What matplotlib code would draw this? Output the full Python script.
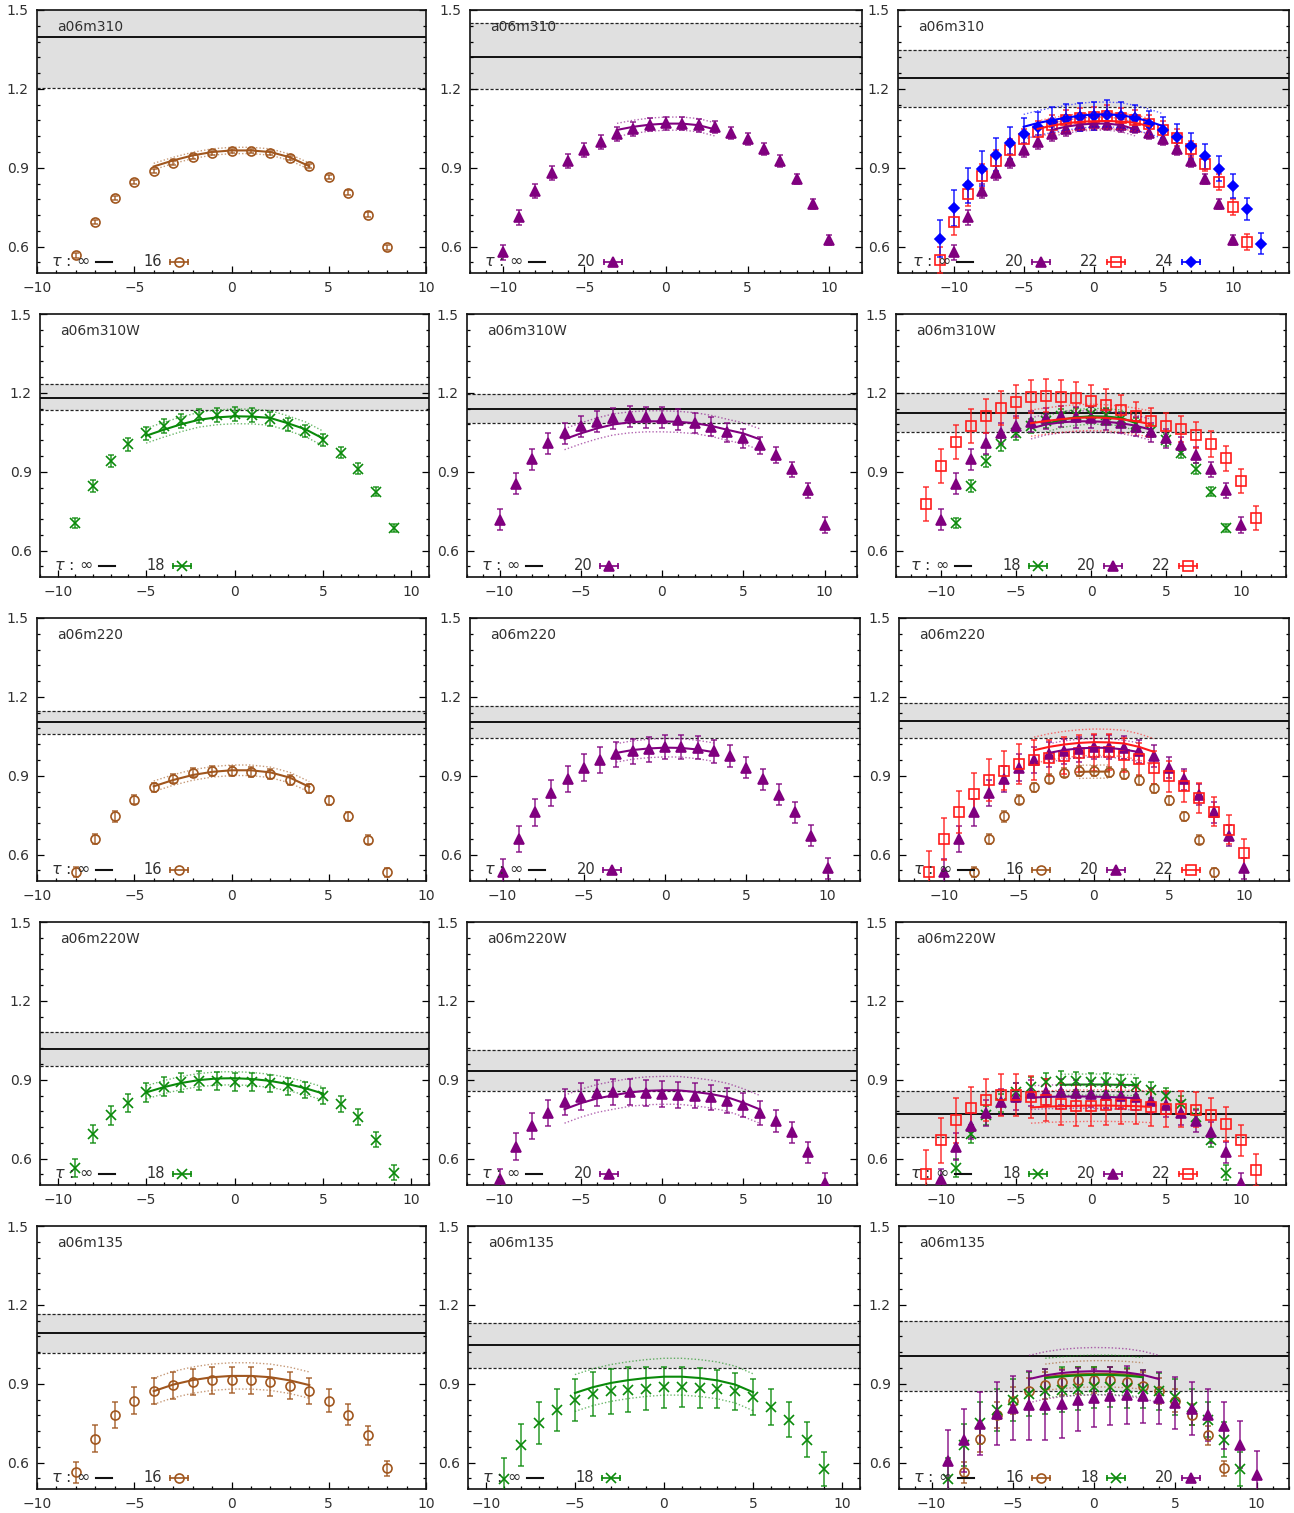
import matplotlib.pyplot as plt
from matplotlib.ticker import MultipleLocator

# colour / symbol per source-sink separation tau
colors = {16: '#a0561e', 18: '#0a8a0a', 20: '#80007f', 22: '#ff1a1a', 24: '#0000ff'}
markers = {16: 'o', 18: 'x', 20: '^', 22: 's', 24: 'D'}
msizes = {16: 6.5, 18: 6.5, 20: 7.0, 22: 6.5, 24: 5.0}
hollow = {16: True, 18: False, 20: False, 22: True, 24: False}

# ---------------- a06m310 ----------------
m310_t16_x = list(range(-8, 9))
m310_t16_y = [0.567, 0.694, 0.784, 0.846, 0.887, 0.919, 0.942, 0.957, 0.963, 0.963, 0.957, 0.938, 0.908, 0.865, 0.806, 0.722, 0.597]
m310_t16_e = [0.010, 0.009, 0.008, 0.008, 0.008, 0.008, 0.008, 0.008, 0.008, 0.008, 0.008, 0.008, 0.008, 0.008, 0.009, 0.009, 0.010]

m310_t20_x = list(range(-10, 11))
m310_t20_y = [0.578, 0.712, 0.812, 0.880, 0.926, 0.967, 0.997, 1.028, 1.048, 1.064, 1.070, 1.067, 1.061, 1.055, 1.033, 1.010, 0.972, 0.925, 0.858, 0.762, 0.626]
m310_t20_e = [0.028, 0.028, 0.028, 0.027, 0.027, 0.027, 0.027, 0.026, 0.026, 0.025, 0.025, 0.025, 0.025, 0.024, 0.024, 0.024, 0.022, 0.022, 0.020, 0.020, 0.018]

m310_t22_x = list(range(-11, 12))
m310_t22_y = [0.550, 0.693, 0.800, 0.870, 0.926, 0.969, 1.009, 1.038, 1.061, 1.081, 1.089, 1.093, 1.097, 1.089, 1.081, 1.065, 1.043, 1.014, 0.972, 0.916, 0.845, 0.750, 0.617]
m310_t22_e = [0.050, 0.050, 0.045, 0.045, 0.042, 0.040, 0.040, 0.040, 0.040, 0.040, 0.040, 0.040, 0.040, 0.040, 0.038, 0.036, 0.035, 0.033, 0.030, 0.030, 0.030, 0.030, 0.030]

m310_t24_x = list(range(-11, 13))
m310_t24_y = [0.631, 0.747, 0.833, 0.897, 0.950, 0.995, 1.029, 1.056, 1.074, 1.087, 1.094, 1.098, 1.102, 1.098, 1.088, 1.067, 1.043, 1.016, 0.982, 0.944, 0.897, 0.832, 0.744, 0.612]
m310_t24_e = [0.070, 0.070, 0.068, 0.065, 0.062, 0.060, 0.060, 0.058, 0.056, 0.055, 0.054, 0.054, 0.054, 0.054, 0.052, 0.050, 0.050, 0.050, 0.050, 0.048, 0.048, 0.045, 0.042, 0.040]

# fits: x range, central values, half width of the error band
fit_m310_t16 = (list(range(-4, 5)), [0.905, 0.928, 0.947, 0.960, 0.966, 0.966, 0.960, 0.940, 0.906], 0.012)
fit_m310_t20 = (list(range(-3, 4)), [1.044, 1.056, 1.064, 1.068, 1.068, 1.062, 1.046], 0.025)
fit_m310_t22 = (list(range(-4, 5)), [1.048, 1.060, 1.069, 1.075, 1.077, 1.078, 1.076, 1.071, 1.058], 0.030)
fit_m310_t24 = (list(range(-5, 6)), [1.056, 1.070, 1.081, 1.090, 1.098, 1.103, 1.103, 1.100, 1.090, 1.076, 1.058], 0.047)

# ---------------- a06m310W ----------------
m310W_t18_x = list(range(-9, 10))
m310W_t18_y = [0.705, 0.845, 0.942, 1.004, 1.046, 1.073, 1.094, 1.113, 1.116, 1.120, 1.116, 1.101, 1.081, 1.056, 1.021, 0.973, 0.912, 0.825, 0.688]
m310W_t18_e = [0.020, 0.022, 0.022, 0.024, 0.025, 0.026, 0.026, 0.026, 0.026, 0.026, 0.026, 0.025, 0.024, 0.023, 0.022, 0.021, 0.020, 0.018, 0.015]

m310W_t20_x = list(range(-10, 11))
m310W_t20_y = [0.717, 0.854, 0.947, 1.009, 1.047, 1.073, 1.090, 1.104, 1.111, 1.108, 1.106, 1.098, 1.085, 1.071, 1.050, 1.027, 1.001, 0.965, 0.909, 0.829, 0.698]
m310W_t20_e = [0.040, 0.040, 0.040, 0.040, 0.040, 0.040, 0.040, 0.040, 0.040, 0.040, 0.040, 0.040, 0.038, 0.036, 0.035, 0.035, 0.033, 0.030, 0.030, 0.030, 0.030]

m310W_t22_x = list(range(-11, 12))
m310W_t22_y = [0.779, 0.922, 1.014, 1.073, 1.112, 1.142, 1.167, 1.186, 1.190, 1.186, 1.180, 1.170, 1.154, 1.135, 1.111, 1.093, 1.075, 1.062, 1.041, 1.007, 0.952, 0.864, 0.724]
m310W_t22_e = [0.065, 0.065, 0.065, 0.065, 0.065, 0.065, 0.063, 0.062, 0.062, 0.062, 0.060, 0.060, 0.060, 0.058, 0.056, 0.050, 0.050, 0.050, 0.050, 0.050, 0.048, 0.045, 0.045]

fit_m310W_t18 = (list(range(-5, 6)), [1.037, 1.060, 1.081, 1.098, 1.107, 1.111, 1.110, 1.105, 1.085, 1.062, 1.027], 0.028)
fit_m310W_t20 = (list(range(-6, 7)), [1.024, 1.046, 1.065, 1.080, 1.088, 1.092, 1.092, 1.090, 1.085, 1.075, 1.060, 1.046, 1.024], 0.040)
fit_m310W_all_t18 = (list(range(-3, 4)), [1.081, 1.098, 1.107, 1.111, 1.110, 1.105, 1.085], 0.030)
fit_m310W_all_t20 = (list(range(-4, 5)), [1.065, 1.080, 1.088, 1.092, 1.092, 1.090, 1.085, 1.075, 1.060], 0.040)
fit_m310W_all_t22 = (list(range(-4, 5)), [1.085, 1.093, 1.100, 1.105, 1.107, 1.105, 1.100, 1.092, 1.081], 0.050)

# ---------------- a06m220 ----------------
m220_t16_x = list(range(-8, 9))
m220_t16_y = [0.535, 0.659, 0.746, 0.809, 0.856, 0.889, 0.912, 0.919, 0.919, 0.914, 0.907, 0.884, 0.852, 0.807, 0.746, 0.657, 0.533]
m220_t16_e = [0.020, 0.020, 0.020, 0.018, 0.018, 0.018, 0.018, 0.018, 0.018, 0.018, 0.018, 0.018, 0.018, 0.018, 0.018, 0.018, 0.018]

m220_t20_x = list(range(-10, 11))
m220_t20_y = [0.534, 0.660, 0.761, 0.834, 0.888, 0.931, 0.960, 0.981, 0.993, 1.000, 1.010, 1.010, 1.007, 0.993, 0.974, 0.930, 0.886, 0.828, 0.761, 0.672, 0.549]
m220_t20_e = [0.050, 0.050, 0.050, 0.050, 0.050, 0.050, 0.050, 0.048, 0.048, 0.046, 0.046, 0.046, 0.045, 0.044, 0.042, 0.040, 0.040, 0.040, 0.040, 0.040, 0.040]

m220_t22_x = list(range(-11, 11))
m220_t22_y = [0.534, 0.661, 0.761, 0.832, 0.883, 0.920, 0.945, 0.960, 0.968, 0.977, 0.985, 0.990, 0.990, 0.979, 0.962, 0.931, 0.898, 0.860, 0.816, 0.764, 0.695, 0.606]
m220_t22_e = [0.080, 0.080, 0.080, 0.080, 0.080, 0.075, 0.075, 0.075, 0.070, 0.070, 0.070, 0.070, 0.068, 0.066, 0.064, 0.062, 0.060, 0.060, 0.058, 0.056, 0.055, 0.055]

fit_m220_t16 = (list(range(-4, 5)), [0.860, 0.884, 0.903, 0.915, 0.921, 0.921, 0.913, 0.893, 0.858], 0.020)
fit_m220_t20 = (list(range(-3, 4)), [0.987, 0.998, 1.004, 1.007, 1.006, 1.000, 0.990], 0.035)
fit_m220_all_t16 = (list(range(-1, 2)), [0.915, 0.916, 0.916], 0.025)
fit_m220_all_t22 = (list(range(-4, 5)), [0.997, 1.010, 1.019, 1.025, 1.028, 1.027, 1.023, 1.010, 0.991], 0.050)

# ---------------- a06m220W ----------------
m220W_t18_x = list(range(-9, 10))
m220W_t18_y = [0.565, 0.693, 0.765, 0.812, 0.852, 0.874, 0.890, 0.897, 0.895, 0.892, 0.890, 0.886, 0.876, 0.862, 0.838, 0.809, 0.760, 0.672, 0.547]
m220W_t18_e = [0.035, 0.035, 0.035, 0.035, 0.035, 0.035, 0.035, 0.035, 0.035, 0.035, 0.034, 0.033, 0.032, 0.030, 0.030, 0.030, 0.030, 0.028, 0.028]

m220W_t20_x = list(range(-10, 11))
m220W_t20_y = [0.521, 0.646, 0.725, 0.775, 0.815, 0.836, 0.849, 0.853, 0.853, 0.849, 0.845, 0.843, 0.840, 0.834, 0.821, 0.803, 0.775, 0.744, 0.700, 0.624, 0.506]
m220W_t20_e = [0.040, 0.050, 0.050, 0.050, 0.050, 0.050, 0.050, 0.050, 0.050, 0.050, 0.050, 0.050, 0.048, 0.047, 0.046, 0.045, 0.045, 0.042, 0.040, 0.040, 0.040]

m220W_t22_x = list(range(-11, 12))
m220W_t22_y = [0.542, 0.670, 0.746, 0.791, 0.824, 0.842, 0.843, 0.834, 0.822, 0.809, 0.801, 0.801, 0.805, 0.808, 0.803, 0.795, 0.789, 0.789, 0.786, 0.766, 0.732, 0.670, 0.558]
m220W_t22_e = [0.090, 0.085, 0.085, 0.082, 0.080, 0.080, 0.080, 0.080, 0.080, 0.080, 0.078, 0.078, 0.076, 0.075, 0.072, 0.070, 0.070, 0.068, 0.066, 0.065, 0.065, 0.060, 0.060]

fit_m220W_t18 = (list(range(-5, 6)), [0.852, 0.872, 0.888, 0.899, 0.905, 0.906, 0.903, 0.896, 0.884, 0.868, 0.848], 0.025)
fit_m220W_t20 = (list(range(-6, 7)), [0.788, 0.811, 0.829, 0.841, 0.852, 0.858, 0.860, 0.860, 0.854, 0.846, 0.834, 0.813, 0.788], 0.053)
fit_m220W_all_t18 = (list(range(-2, 4)), [0.881, 0.882, 0.882, 0.882, 0.881, 0.880], 0.040)
fit_m220W_all_t20 = (list(range(-4, 4)), [0.832, 0.835, 0.836, 0.837, 0.836, 0.835, 0.833, 0.830], 0.045)
fit_m220W_all_t22 = (list(range(-4, 5)), [0.795, 0.798, 0.800, 0.801, 0.802, 0.802, 0.801, 0.800, 0.797], 0.060)

# ---------------- a06m135 ----------------
m135_t16_x = list(range(-8, 9))
m135_t16_y = [0.563, 0.692, 0.781, 0.836, 0.872, 0.894, 0.907, 0.913, 0.915, 0.913, 0.905, 0.893, 0.872, 0.836, 0.782, 0.704, 0.578]
m135_t16_e = [0.040, 0.050, 0.050, 0.050, 0.050, 0.050, 0.050, 0.050, 0.050, 0.050, 0.050, 0.050, 0.050, 0.045, 0.040, 0.035, 0.030]

m135_t18_x = list(range(-9, 10))
m135_t18_y = [0.537, 0.666, 0.752, 0.802, 0.839, 0.861, 0.871, 0.878, 0.882, 0.887, 0.887, 0.884, 0.879, 0.871, 0.849, 0.811, 0.764, 0.688, 0.575]
m135_t18_e = [0.080, 0.080, 0.080, 0.080, 0.080, 0.083, 0.085, 0.085, 0.083, 0.078, 0.075, 0.075, 0.072, 0.070, 0.068, 0.068, 0.066, 0.065, 0.065]

m135_t20_x = list(range(-9, 11))
m135_t20_y = [0.605, 0.685, 0.748, 0.786, 0.808, 0.818, 0.820, 0.823, 0.839, 0.846, 0.852, 0.858, 0.852, 0.846, 0.827, 0.805, 0.782, 0.741, 0.668, 0.554]
m135_t20_e = [0.120, 0.120, 0.120, 0.120, 0.120, 0.130, 0.135, 0.130, 0.120, 0.110, 0.110, 0.110, 0.100, 0.100, 0.100, 0.100, 0.100, 0.090, 0.090, 0.090]

fit_m135_t16 = (list(range(-4, 5)), [0.872, 0.897, 0.914, 0.925, 0.930, 0.930, 0.925, 0.913, 0.895], 0.050)
fit_m135_t18 = (list(range(-5, 6)), [0.865, 0.887, 0.903, 0.914, 0.922, 0.927, 0.927, 0.922, 0.913, 0.897, 0.868], 0.070)
fit_m135_all_t16 = (list(range(-3, 4)), [0.925, 0.932, 0.936, 0.938, 0.938, 0.935, 0.930], 0.050)
fit_m135_all_t18 = (list(range(-3, 4)), [0.922, 0.928, 0.932, 0.934, 0.934, 0.931, 0.925], 0.075)
fit_m135_all_t20 = (list(range(-4, 5)), [0.918, 0.932, 0.941, 0.946, 0.948, 0.947, 0.943, 0.934, 0.918], 0.090)

# tau -> infinity estimate: (lower, central, upper) per panel
bands = [
    [(1.204, 1.396, 1.590), (1.198, 1.322, 1.449), (1.132, 1.240, 1.347)],
    [(1.135, 1.182, 1.232), (1.087, 1.140, 1.194), (1.050, 1.124, 1.199)],
    [(1.060, 1.106, 1.148), (1.045, 1.106, 1.167), (1.044, 1.110, 1.175)],
    [(0.953, 1.018, 1.083), (0.859, 0.935, 1.014), (0.681, 0.770, 0.858)],
    [(1.018, 1.094, 1.166), (0.959, 1.046, 1.133), (0.873, 1.004, 1.137)],
]
ensembles = ['a06m310', 'a06m310W', 'a06m220', 'a06m220W', 'a06m135']
xlims = [[10, 12, 14], [11, 12, 13], [10, 12, 13], [11, 12, 13], [10, 11, 12]]

# per panel: list of (tau, x, y, err) and list of (tau, fit)
panels = [
    [
        ([(16, m310_t16_x, m310_t16_y, m310_t16_e)], [(16, fit_m310_t16)]),
        ([(20, m310_t20_x, m310_t20_y, m310_t20_e)], [(20, fit_m310_t20)]),
        ([(20, m310_t20_x, m310_t20_y, m310_t20_e), (22, m310_t22_x, m310_t22_y, m310_t22_e),
          (24, m310_t24_x, m310_t24_y, m310_t24_e)],
         [(20, fit_m310_t20), (22, fit_m310_t22), (24, fit_m310_t24)]),
    ],
    [
        ([(18, m310W_t18_x, m310W_t18_y, m310W_t18_e)], [(18, fit_m310W_t18)]),
        ([(20, m310W_t20_x, m310W_t20_y, m310W_t20_e)], [(20, fit_m310W_t20)]),
        ([(18, m310W_t18_x, m310W_t18_y, m310W_t18_e), (20, m310W_t20_x, m310W_t20_y, m310W_t20_e),
          (22, m310W_t22_x, m310W_t22_y, m310W_t22_e)],
         [(18, fit_m310W_all_t18), (20, fit_m310W_all_t20), (22, fit_m310W_all_t22)]),
    ],
    [
        ([(16, m220_t16_x, m220_t16_y, m220_t16_e)], [(16, fit_m220_t16)]),
        ([(20, m220_t20_x, m220_t20_y, m220_t20_e)], [(20, fit_m220_t20)]),
        ([(16, m220_t16_x, m220_t16_y, m220_t16_e), (20, m220_t20_x, m220_t20_y, m220_t20_e),
          (22, m220_t22_x, m220_t22_y, m220_t22_e)],
         [(16, fit_m220_all_t16), (20, fit_m220_t20), (22, fit_m220_all_t22)]),
    ],
    [
        ([(18, m220W_t18_x, m220W_t18_y, m220W_t18_e)], [(18, fit_m220W_t18)]),
        ([(20, m220W_t20_x, m220W_t20_y, m220W_t20_e)], [(20, fit_m220W_t20)]),
        ([(18, m220W_t18_x, m220W_t18_y, m220W_t18_e), (20, m220W_t20_x, m220W_t20_y, m220W_t20_e),
          (22, m220W_t22_x, m220W_t22_y, m220W_t22_e)],
         [(18, fit_m220W_all_t18), (20, fit_m220W_all_t20), (22, fit_m220W_all_t22)]),
    ],
    [
        ([(16, m135_t16_x, m135_t16_y, m135_t16_e)], [(16, fit_m135_t16)]),
        ([(18, m135_t18_x, m135_t18_y, m135_t18_e)], [(18, fit_m135_t18)]),
        ([(16, m135_t16_x, m135_t16_y, m135_t16_e), (18, m135_t18_x, m135_t18_y, m135_t18_e),
          (20, m135_t20_x, m135_t20_y, m135_t20_e)],
         [(16, fit_m135_all_t16), (18, fit_m135_all_t18), (20, fit_m135_all_t20)]),
    ],
]

W, H = 1294, 1513
col_lr = [
    [(37, 426), (470, 862), (898, 1289)],
    [(40, 429), (467, 857), (896, 1286)],
    [(37, 426), (470, 860), (899, 1289)],
    [(40, 429), (467, 857), (896, 1286)],
    [(37, 426), (468, 860), (899, 1289)],
]
row_top = [10, 314, 618, 922, 1226]
ph = 263
txt = '#303030'

plt.rcParams['font.family'] = 'DejaVu Sans'
fig = plt.figure(figsize=(W / 100, H / 100), dpi=100)


def draw_marker(ax, tau, x, y, **kw):
    c = colors[tau]
    ax.plot(x, y, ls='none', marker=markers[tau], ms=msizes[tau], mec=c,
            mfc='none' if hollow[tau] else c, mew=1.2, **kw)


for r in range(5):
    for ci in range(3):
        l, rt = col_lr[r][ci]
        ax = fig.add_axes([l / W, 1 - (row_top[r] + ph) / H, (rt - l) / W, ph / H])
        xl = xlims[r][ci]
        ax.set_xlim(-xl, xl)
        ax.set_ylim(0.5, 1.5)

        lo, mid, hi = bands[r][ci]
        ax.axhspan(lo, hi, color='#e0e0e0', lw=0, zorder=0)
        ax.axhline(lo, color='#222222', lw=0.9, ls=(0, (2.5, 1.5)), zorder=1)
        ax.axhline(hi, color='#222222', lw=0.9, ls=(0, (2.5, 1.5)), zorder=1)
        ax.axhline(mid, color='#111111', lw=1.4, zorder=1)

        series, fits = panels[r][ci]
        for tau, x, y, e in series:
            c = colors[tau]
            ax.errorbar(x, y, yerr=e, fmt='none', ecolor=c, elinewidth=1.2,
                        capsize=2.2, capthick=1.2, alpha=0.8, zorder=3)
            draw_marker(ax, tau, x, y, zorder=4)
        for tau, (fx, fy, hw) in fits:
            c = colors[tau]
            ax.plot(fx, fy, color=c, lw=1.5, zorder=5)
            ax.plot(fx, [v + hw for v in fy], color=c, lw=1.0, ls=(0, (1, 1.5)), alpha=0.6, zorder=5)
            ax.plot(fx, [v - hw for v in fy], color=c, lw=1.0, ls=(0, (1, 1.5)), alpha=0.6, zorder=5)

        ax.text(0.051, 0.935, ensembles[r], transform=ax.transAxes, fontsize=10,
                color=txt, va='center', ha='left')

        # key along the bottom of the panel
        ly = 0.043
        ax.text(0.035, ly, r'$\tau$ : $\infty$', transform=ax.transAxes, fontsize=11.5,
                color=txt, va='center', ha='left', zorder=6)
        ax.plot([0.151, 0.192], [ly, ly], color='#111111', lw=1.5, transform=ax.transAxes, zorder=6)
        for k, (tau, x, y, e) in enumerate(series):
            dx = 0.192 * k
            c = colors[tau]
            ax.text(0.321 + dx, ly, str(tau), transform=ax.transAxes, fontsize=10.5,
                    color=txt, va='center', ha='right', zorder=6)
            ax.plot([0.342 + dx, 0.388 + dx], [ly, ly], color=c, lw=1.2,
                    transform=ax.transAxes, zorder=6)
            ax.plot([0.342 + dx, 0.388 + dx], [ly, ly], ls='none', marker='|', ms=5,
                    mew=1.2, color=c, transform=ax.transAxes, zorder=6)
            draw_marker(ax, tau, [0.365 + dx], [ly], transform=ax.transAxes, zorder=7)

        ax.xaxis.set_major_locator(MultipleLocator(5))
        ax.xaxis.set_minor_locator(MultipleLocator(1))
        ax.yaxis.set_major_locator(MultipleLocator(0.3))
        ax.yaxis.set_minor_locator(MultipleLocator(0.06))
        ax.set_yticks([0.6, 0.9, 1.2, 1.5])
        ax.tick_params(which='both', direction='in', right=True, top=False,
                       labelsize=10, labelcolor=txt, width=0.9)
        ax.tick_params(which='major', length=5, pad=6)
        ax.tick_params(which='minor', length=2.5)
        for sp in ax.spines.values():
            sp.set_linewidth(1.2)
            sp.set_color('#111111')

fig.savefig('out.png', dpi=100)
